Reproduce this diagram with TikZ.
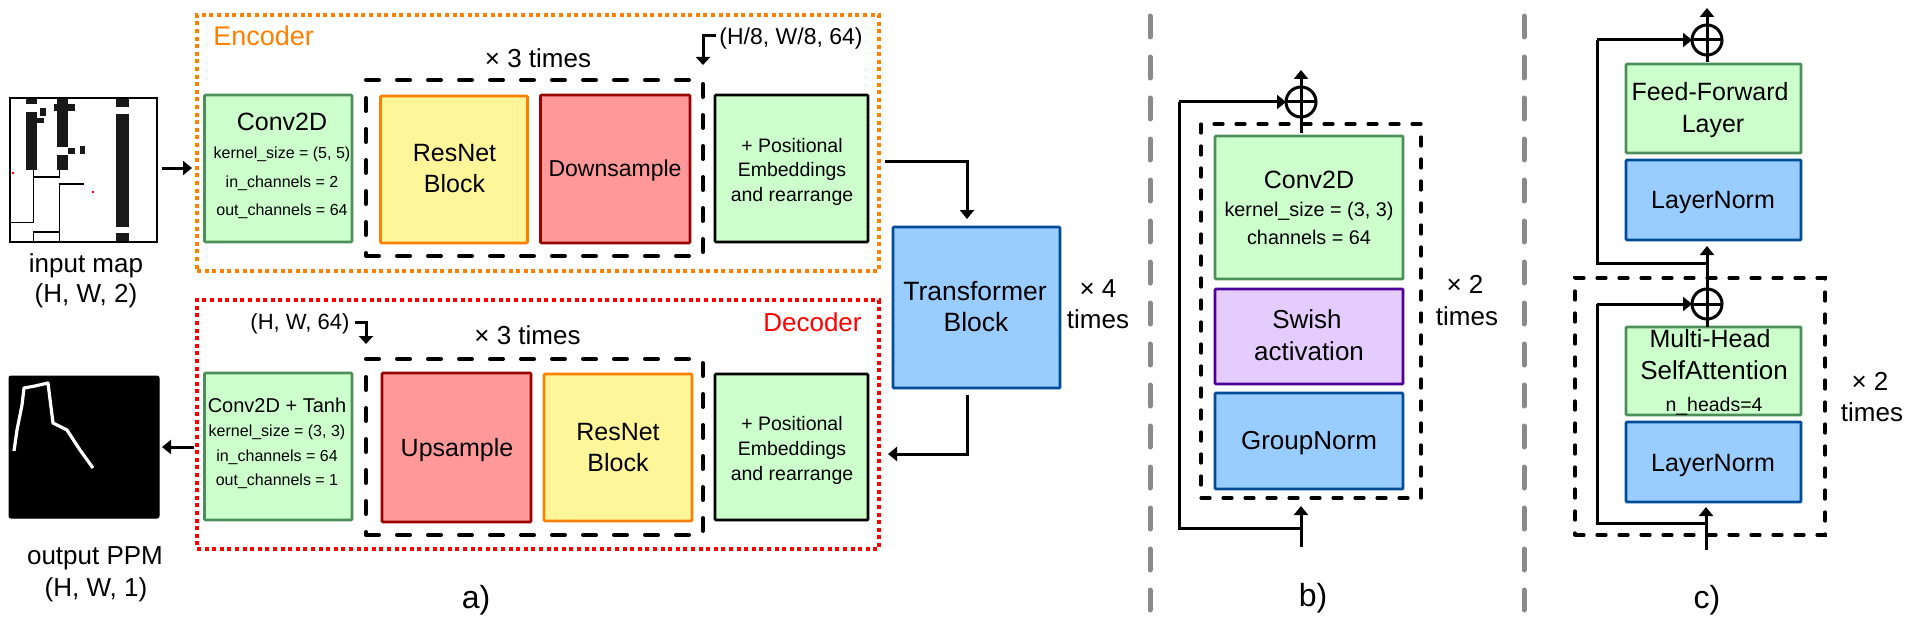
\documentclass[tikz,border=0pt]{standalone}
\usepackage{fontspec}
\setmainfont{Liberation Sans}
\usetikzlibrary{arrows.meta}
\definecolor{gfill}{HTML}{CCFFCC}\definecolor{gline}{HTML}{4C8F5A}
\definecolor{bfill}{HTML}{99CCFF}\definecolor{bline}{HTML}{004C99}
\definecolor{rfill}{HTML}{FF9999}\definecolor{rline}{HTML}{990000}
\definecolor{yfill}{HTML}{FFF599}\definecolor{oline}{HTML}{FF8000}
\definecolor{pfill}{HTML}{E5CCFF}\definecolor{pline}{HTML}{4C0099}
\definecolor{sepgray}{HTML}{8A8A8A}
\tikzset{
  x=0.5pt,y=-0.5pt,
  box/.style={draw,line width=1.4pt,rounded corners=0.5pt,inner sep=0pt,outer sep=0pt},
  green/.style={box,fill=gfill,draw=gline},
  greenk/.style={box,fill=gfill,draw=black},
  blue/.style={box,fill=bfill,draw=bline},
  redb/.style={box,fill=rfill,draw=rline},
  yellow/.style={box,fill=yfill,draw=oline},
  purple/.style={box,fill=pfill,draw=pline},
  orangeframe/.style={draw=oline,line width=1.6pt,dash pattern=on 2pt off 1.8pt},
  redframe/.style={draw=red,line width=1.6pt,dash pattern=on 2pt off 1.8pt},
  blackframe/.style={draw=black,line width=2pt,line cap=round,dash pattern=on 6.5pt off 9pt},
  sepline/.style={draw=sepgray,line width=2.5pt,line cap=round,dash pattern=on 10.5pt off 10pt},
  wire/.style={draw=black,line width=1.5pt,line join=miter},
  arrow/.style={wire,-{Triangle[length=4.5pt,width=7pt]}},
  gaparrow/.style={wire,-{Triangle[length=4pt,width=7pt,sep=3.5pt]}},
  sum/.style={circle,draw=black,line width=1.5pt,minimum size=15pt,inner sep=0pt,outer sep=0pt},
}
% name, style, x1,y1,x2,y2
\newcommand{\bx}[6]{%
  \pgfmathsetmacro{\bxw}{(#5-#3)*0.5}\pgfmathsetmacro{\bxh}{(#6-#4)*0.5}%
  \pgfmathsetmacro{\bxx}{(#3+#5)/2}\pgfmathsetmacro{\bxy}{(#4+#6)/2}%
  \node[#2,minimum width=\bxw pt,minimum height=\bxh pt] (#1) at (\bxx,\bxy) {};}
% name, x, y, size in px, text
\newcommand{\tx}[5]{%
  \pgfmathsetmacro{\txh}{#4*0.36}\pgfmathsetmacro{\txs}{#4*0.5}%
  \node[inner sep=0pt,text height=\txh pt,text depth=0pt,font=\fontsize{\txs pt}{\txs pt}\selectfont] (#1) at (#2,#3) {#5};}
\begin{document}
\begin{tikzpicture}
\useasboundingbox (0,0) rectangle (1920,626);
% ---- panel separators
\coordinate (s1a) at (1150,16); \coordinate (s1b) at (1150,610);
\coordinate (s2a) at (1524,16); \coordinate (s2b) at (1524,610);
\draw[sepline] (s1a) -- (s1b);
\draw[sepline] (s2a) -- (s2b);
% ---- input map
\bx{mapbg}{draw=black,fill=white,line width=1.3pt,inner sep=0pt,outer sep=0pt}{10}{98}{157}{242}
\begin{scope}[black!90]
\fill (26,99) rectangle (37,104.5);
\fill (26,112) rectangle (37,170);
\fill (37,118) rectangle (44,123);
\fill (40,108) rectangle (46,116);
\fill (57,99) rectangle (68,147);
\fill (54,104) rectangle (75,111);
\fill (68,148) rectangle (75,154);
\fill (80,146) rectangle (84.5,154);
\fill (57,155) rectangle (68,170);
\fill (116,99) rectangle (129,107);
\fill (116,114) rectangle (129,227);
\fill (116,233) rectangle (129,241);
\end{scope}
\draw[line width=.9pt] (11,222.5) -- (33.5,222.5) -- (33.5,170);
\draw[line width=.9pt] (33.5,177) -- (59.5,177) -- (59.5,170);
\draw[line width=.9pt] (84,184) -- (59.5,184) -- (59.5,241);
\draw[line width=.9pt] (59.5,232) -- (33.5,232) -- (33.5,241);
\fill[red] (11.5,172) rectangle (13.5,174);
\fill[red] (91.5,191) rectangle (94,193);
% ---- output map
\bx{outmap}{draw=black,fill=black,line width=.5pt,rounded corners=1pt,inner sep=0pt,outer sep=0pt}{9}{376}{159}{518}
\draw[white,line width=1.6pt,line join=round] (14,451) -- (17,430) -- (22,405) -- (24,388) -- (35,386) -- (48,383) -- (53,423) -- (67,430) -- (80,450) -- (93,468);
% ---- frames
\bx{encframe}{orangeframe}{197}{15}{879}{271}
\bx{decframe}{redframe}{197}{300}{879}{549}
\bx{encrep}{blackframe}{366}{80}{703}{256}
\bx{decrep}{blackframe}{366}{359}{703}{535}
% ---- encoder
\bx{econv}{green}{204.5}{95}{352}{242}
\bx{eres}{yellow}{380.5}{96}{527.5}{243}
\bx{edown}{redb}{540.5}{95}{690}{243}
\bx{epos}{greenk}{715}{95}{868}{242}
% ---- decoder
\bx{dconv}{green}{204.5}{373}{352}{520}
\bx{dup}{redb}{382}{373}{531}{522}
\bx{dres}{yellow}{544}{374}{692}{521}
\bx{dpos}{greenk}{715}{374}{868}{520}
% ---- transformer
\bx{trans}{blue}{893}{227}{1060}{388}
% ---- panel b
\bx{bframe}{blackframe,line width=1.6pt,dash pattern=on 4.5pt off 6.5pt}{1201}{124}{1421}{498}
\bx{bconv}{green}{1215}{136}{1403}{279}
\bx{bswish}{purple}{1215}{289}{1403}{384}
\bx{bgroup}{blue}{1215}{393}{1403}{489}
% ---- panel c
\bx{cframe}{blackframe,line width=1.6pt,dash pattern=on 4.5pt off 6.5pt}{1575}{278}{1825}{535}
\bx{cff}{green}{1626}{64}{1801}{153}
\bx{cln}{blue}{1626}{160}{1801}{240}
\bx{cmh}{green}{1626}{327}{1801}{415}
\bx{cln2}{blue}{1626}{422}{1801}{502}
% ---- sums
\node[sum] (sumb) at (1301,102) {};
\node[sum] (sumc) at (1707,40) {};
\node[sum] (sumd) at (1707,304) {};
% ---- connectors, panel a
\coordinate (m1) at (162,168); \coordinate (m2) at (192,168);
\draw[arrow] (m1) -- (m2);
\coordinate (o1) at (194,447); \coordinate (o2) at (162,447);
\draw[arrow] (o1) -- (o2);
\coordinate (t1) at (885,161); \coordinate (t2) at (967,161); \coordinate (t3) at (967,219);
\draw[arrow] (t1) -- (t2) -- (t3);
\coordinate (u1) at (967,395); \coordinate (u2) at (967,454); \coordinate (u3) at (888,454);
\draw[arrow] (u1) -- (u2) -- (u3);
\coordinate (h1) at (716,36); \coordinate (h2) at (703,36); \coordinate (h3) at (703,72);
\draw[gaparrow] (h1) -- (h2) -- (h3);
\coordinate (k1) at (354.6,322); \coordinate (k2) at (366,322); \coordinate (k3) at (366,351);
\draw[gaparrow] (k1) -- (k2) -- (k3);
% ---- connectors, panel b
\coordinate (b0) at (1301,547); \coordinate (b1) at (1301,506); \coordinate (b2) at (1301,528);
\coordinate (b3) at (1179,528); \coordinate (b4) at (1179,102);
\coordinate (b5) at (1301,133); \coordinate (b6) at (1301,70);
\draw[arrow] (b0) -- (b1);
\draw[wire] (b2) -- (b3) -- (b4);
\draw[arrow] (b4) -- (sumb.west);
\draw[arrow] (b5) -- (b6);
\draw[wire] (sumb.west) -- (sumb.east);
% ---- connectors, panel c
\coordinate (c0) at (1706,550); \coordinate (c1) at (1706,507); \coordinate (c2) at (1706,523);
\coordinate (c3) at (1597,523); \coordinate (c4) at (1597,304);
\draw[arrow] (c0) -- (c1);
\draw[wire] (c2) -- (c3) -- (c4);
\draw[arrow] (c4) -- (sumd.west);
\draw[wire] (sumd.west) -- (sumd.east);
\coordinate (c5) at (1707,327); \coordinate (c6) at (1707,246); \coordinate (c7) at (1707,263);
\coordinate (c8) at (1597,263); \coordinate (c9) at (1597,40);
\draw[arrow] (c5) -- (c6);
\draw[wire] (c7) -- (c8) -- (c9);
\draw[arrow] (c9) -- (sumc.west);
\draw[wire] (sumc.west) -- (sumc.east);
\coordinate (c10) at (1707,62); \coordinate (c11) at (1707,8);
\draw[arrow] (c10) -- (c11);
% ---- texts
\tx{t01}{86}{263}{26}{input map}
\tx{t02}{86}{293}{26}{(H, W, 2)}
\tx{t03}{95}{555}{26}{output PPM}
\tx{t04}{96}{587}{26}{(H, W, 1)}
\node[inner sep=0pt,anchor=west,text=oline,font=\fontsize{13.5pt}{13.5pt}\selectfont,text height=9.7pt,text depth=0pt] (t05) at (213,36) {Encoder};
\node[inner sep=0pt,anchor=east,text=red,font=\fontsize{13pt}{13pt}\selectfont,text height=9.4pt,text depth=0pt] (t06) at (862,322) {Decoder};
\tx{t07}{538}{58}{26}{× 3 times}
\tx{t08}{527.5}{335}{26}{× 3 times}
\tx{t09}{300}{322}{22}{(H, W, 64)}
\tx{t10}{791}{36}{23}{(H/8, W/8, 64)}
\tx{t11}{282}{122}{25}{Conv2D}
\tx{t12}{282}{153}{16}{kernel\_size = (5, 5)}
\tx{t13}{282}{182}{16}{in\_channels = 2}
\tx{t14}{282}{210}{16}{out\_channels = 64}
\tx{t15}{454.5}{152}{25}{ResNet}
\tx{t16}{454.5}{183}{25}{Block}
\tx{t17}{615}{168}{23}{Downsample}
\tx{t18}{792}{145}{19.5}{+ Positional}
\tx{t19}{792}{169}{19.5}{Embeddings}
\tx{t20}{792}{194}{19.5}{and rearrange}
\tx{t21}{277}{405}{20}{Conv2D + Tanh}
\tx{t22}{277}{431}{16}{kernel\_size = (3, 3)}
\tx{t23}{277}{456}{16}{in\_channels = 64}
\tx{t24}{277}{480}{16}{out\_channels = 1}
\tx{t25}{457}{447}{25}{Upsample}
\tx{t26}{618}{431}{25}{ResNet}
\tx{t27}{618}{462}{25}{Block}
\tx{t28}{792}{423}{19.5}{+ Positional}
\tx{t29}{792}{448}{19.5}{Embeddings}
\tx{t30}{792}{473}{19.5}{and rearrange}
\tx{t31}{975}{291}{26.5}{Transformer}
\tx{t32}{976}{322}{26.5}{Block}
\tx{t33}{1098}{288}{26}{× 4}
\tx{t34}{1098}{319}{26}{times}
\tx{t35}{476}{597}{32}{a)}
\tx{t36}{1309}{179}{25}{Conv2D}
\tx{t37}{1309}{209}{19.8}{kernel\_size = (3, 3)}
\tx{t38}{1309}{237}{19.8}{channels = 64}
\tx{t39}{1307}{319}{26}{Swish}
\tx{t40}{1309}{351}{26}{activation}
\tx{t41}{1309}{440}{26}{GroupNorm}
\tx{t42}{1465}{284}{26}{× 2}
\tx{t43}{1467}{316}{26}{times}
\tx{t44}{1313}{595}{32}{b)}
\tx{t45}{1710}{92}{25}{Feed-Forward}
\tx{t46}{1713}{124}{25}{Layer}
\tx{t47}{1713}{199}{25}{LayerNorm}
\tx{t48}{1710}{338}{25}{Multi-Head}
\tx{t49}{1714}{370}{26}{SelfAttention}
\tx{t50}{1714}{404}{19.5}{n\_heads=4}
\tx{t51}{1713}{462}{25}{LayerNorm}
\tx{t52}{1870}{381}{26}{× 2}
\tx{t53}{1872}{412}{26}{times}
\tx{t54}{1707}{597}{32}{c)}
\end{tikzpicture}
\end{document}
